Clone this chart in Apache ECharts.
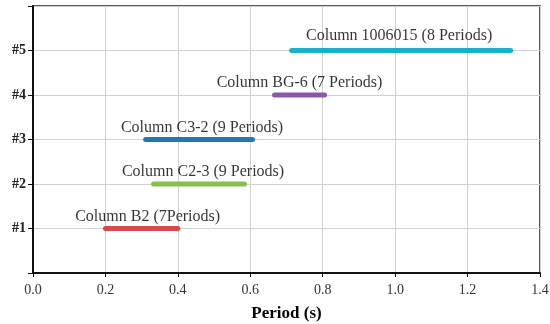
<!DOCTYPE html>
<html><head><meta charset="utf-8">
<script src="https://cdn.jsdelivr.net/npm/echarts@6/dist/echarts.min.js"></script>
<style>html,body{margin:0;padding:0;background:#fff}#c{width:550px;height:324px}</style>
</head><body><div id="c"></div>
<script>
const names = ['Column B2 (7Periods)','Column C2-3 (9 Periods)','Column C3-2 (9 Periods)','Column BG-6 (7 Periods)','Column 1006015 (8 Periods)'];
const rows = [1,2,3,4,5];
const starts = [0.20,0.333,0.311,0.667,0.714];
const ends = [0.40,0.584,0.606,0.805,1.319];
const yTickLabels = {1:'#1',2:'#2',3:'#3',4:'#4',5:'#5'};

const colors = ['#d9474b','#86c04a','#2278b5','#8a56a8','#18b2c8'];
const labelDx = [6,4,3,0,-2];
const labelDy = [2,2,2,2,-1];

const series = [];
rows.forEach((r,i)=>{
  series.push({type:'line',data:[[starts[i],r],[ends[i],r]],symbol:'none',
    lineStyle:{color:colors[i],width:5,cap:'round'},silent:true,z:3});
  series.push({type:'scatter',data:[[(starts[i]+ends[i])/2,r]],symbolSize:0,silent:true,
    label:{show:true,position:'top',distance:6,offset:[labelDx[i],labelDy[i]],formatter:names[i],
      fontFamily:'Liberation Serif',fontSize:16,color:'#000'},z:4});
});

const chart = echarts.init(document.getElementById('c'),null,{renderer:'canvas'});
chart.setOption({
  animation:false,
  grid:{left:33,right:10,top:6,bottom:51,show:true,borderColor:'#222',borderWidth:1.5,
    outerBoundsMode:'none',containLabel:false},
  xAxis:{type:'value',min:0,max:1.4,interval:0.2,
    axisLine:{show:true,lineStyle:{color:'#111',width:2}},
    axisTick:{show:true,inside:false,length:4,lineStyle:{color:'#111'}},
    axisLabel:{formatter:v=>v.toFixed(1),fontFamily:'Liberation Serif',fontSize:14,color:'#333',margin:10},
    splitLine:{show:true,lineStyle:{color:'#d0d0d0',width:1}},
    name:'Period (s)',nameLocation:'middle',nameGap:32,
    nameTextStyle:{fontFamily:'Liberation Serif',fontSize:17,fontWeight:'bold',color:'#000'}},
  yAxis:{type:'value',min:0,max:6,interval:1,
    axisLine:{show:true,lineStyle:{color:'#111',width:2}},
    axisTick:{show:true,length:5,lineStyle:{color:'#111'}},
    axisLabel:{formatter:v=>yTickLabels[v]||'',fontFamily:'Liberation Serif',fontSize:14,fontWeight:'bold',color:'#222',margin:7},
    splitLine:{show:true,lineStyle:{color:'#d0d0d0',width:1}}},
  series:series
});
</script></body></html>
